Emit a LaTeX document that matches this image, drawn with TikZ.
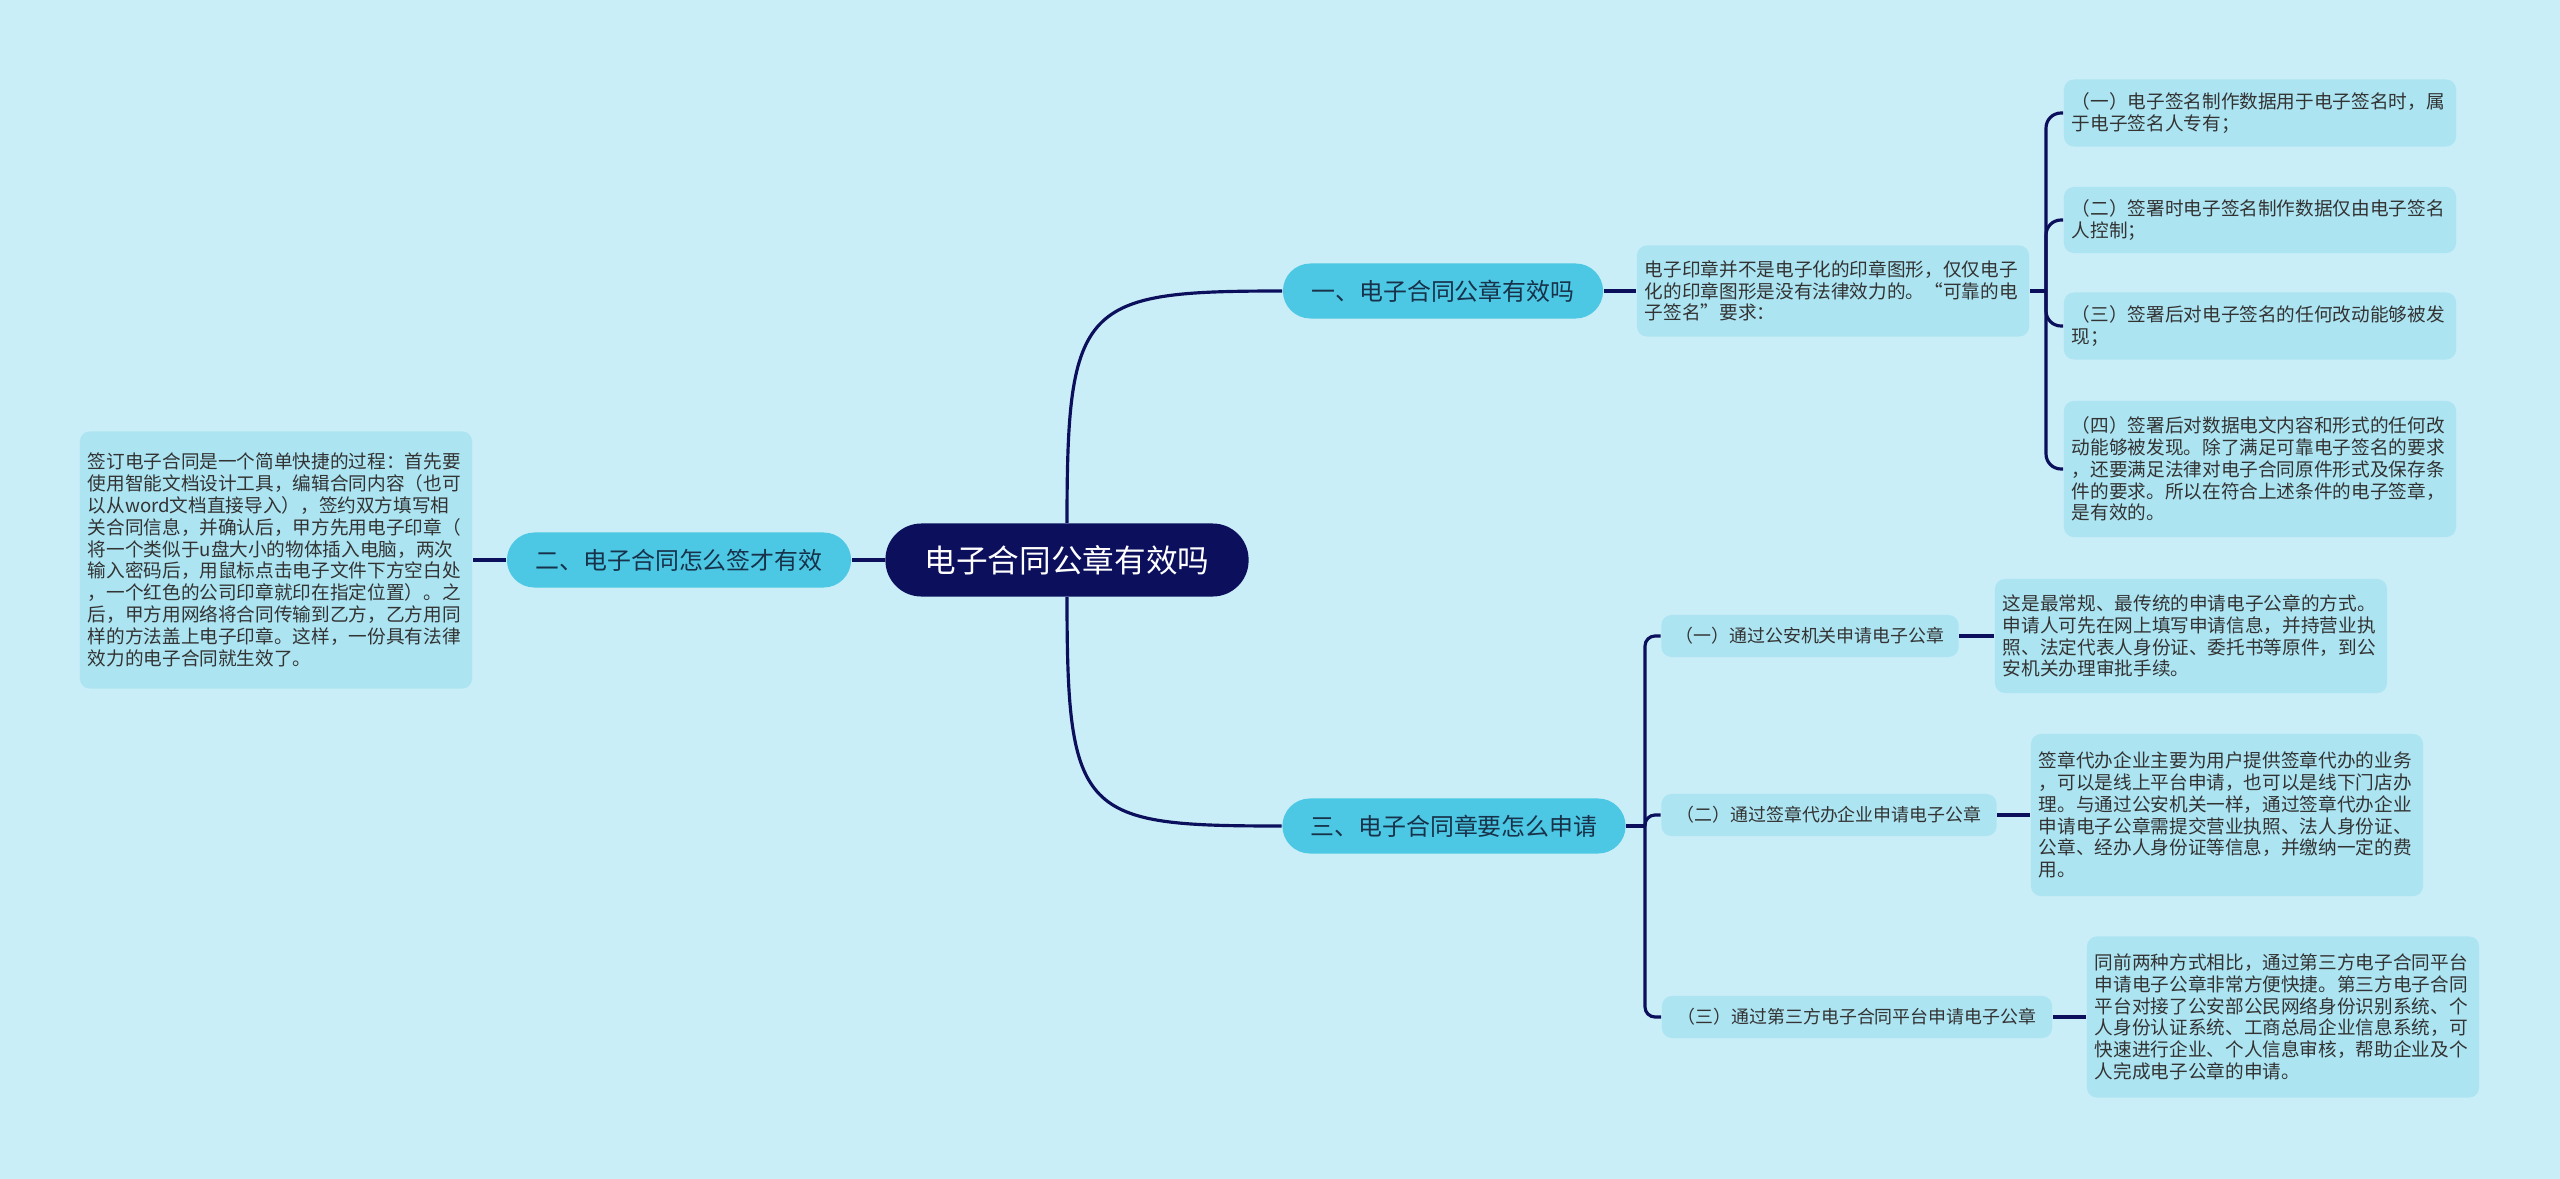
\documentclass[tikz,border=0pt]{standalone}
\usepackage{fontspec}
\setmainfont{Noto Sans CJK SC}

\definecolor{hgfarbe}{HTML}{C9EEF7}
\definecolor{blattfarbe}{HTML}{ACE4F2}
\definecolor{astfarbe}{HTML}{4CC8E4}
\definecolor{wurzelfarbe}{HTML}{0B0F5C}
\definecolor{linie}{HTML}{0B0F5C}
\definecolor{asttext}{HTML}{17324A}
\definecolor{textgrau}{HTML}{333333}

\begin{document}
\begin{tikzpicture}[x=0.01cm, y=-0.01cm]

	% Stile für Knoten und Linien
	\tikzset{
		kante/.style={draw=linie, line width=0.9pt},
		blatt/.style={fill=blattfarbe, rounded corners=0.1cm, align=left, text=textgrau,
			font=\fontsize{5.3pt}{6.2pt}\selectfont, text width=3.76cm, inner xsep=0.08cm, inner ysep=0.04cm},
		ast/.style={fill=astfarbe, rounded corners=0.275cm, text=asttext,
			font=\fontsize{6.8pt}{8pt}\selectfont, inner sep=0pt, minimum height=0.55cm},
		unterast/.style={fill=blattfarbe, rounded corners=0.1cm, text=textgrau,
			font=\fontsize{5.1pt}{6pt}\selectfont, inner sep=0pt, minimum height=0.42cm}
	}

	% Hintergrund
	\fill[hgfarbe] (0,0) rectangle (2560,1179);

	% Zentrum
	\node[fill=wurzelfarbe, rounded corners=0.36cm, text=white, font=\fontsize{9pt}{11pt}\selectfont,
		minimum width=3.63cm, minimum height=0.73cm, inner sep=0pt] (root) at (1067,560) {电子合同公章有效吗};

	% Äste
	\node[ast, minimum width=3.20cm] (b1) at (1443,291) {一、电子合同公章有效吗};
	\node[ast, minimum width=3.44cm] (b2) at (679,560) {二、电子合同怎么签才有效};
	\node[ast, minimum width=3.43cm] (b3) at (1454,826) {三、电子合同章要怎么申请};

	% Blätter links
	\node[blatt, minimum height=2.57cm] (l2) at (276,560) {签订电子合同是一个简单快捷的过程：首先要\\使用智能文档设计工具，编辑合同内容（也可\\以从word文档直接导入），签约双方填写相\\关合同信息，并确认后，甲方先用电子印章（\\将一个类似于u盘大小的物体插入电脑，两次\\输入密码后，用鼠标点击电子文件下方空白处\\，一个红色的公司印章就印在指定位置）。之\\后，甲方用网络将合同传输到乙方，乙方用同\\样的方法盖上电子印章。这样，一份具有法律\\效力的电子合同就生效了。};

	% Blätter rechts oben
	\node[blatt, minimum height=0.91cm] (l1) at (1833,291) {电子印章并不是电子化的印章图形，仅仅电子\\化的印章图形是没有法律效力的。“可靠的电\\子签名”要求：};
	\node[blatt, minimum height=0.67cm] (r1) at (2260,113) {（一）电子签名制作数据用于电子签名时，属\\于电子签名人专有；};
	\node[blatt, minimum height=0.66cm] (r2) at (2260,220) {（二）签署时电子签名制作数据仅由电子签名\\人控制；};
	\node[blatt, minimum height=0.67cm] (r3) at (2260,326) {（三）签署后对电子签名的任何改动能够被发\\现；};
	\node[blatt, minimum height=1.36cm] (r4) at (2260,469) {（四）签署后对数据电文内容和形式的任何改\\动能够被发现。除了满足可靠电子签名的要求\\，还要满足法律对电子合同原件形式及保存条\\件的要求。所以在符合上述条件的电子签章，\\是有效的。};

	% Unteräste und Blätter rechts unten
	\node[unterast, minimum width=2.97cm] (c1) at (1810,636) {（一）通过公安机关申请电子公章};
	\node[unterast, minimum width=3.35cm] (c2) at (1829,815) {（二）通过签章代办企业申请电子公章};
	\node[unterast, minimum width=3.90cm] (c3) at (1857,1017) {（三）通过第三方电子合同平台申请电子公章};

	\node[blatt, minimum height=1.14cm] (k1) at (2191,636) {这是最常规、最传统的申请电子公章的方式。\\申请人可先在网上填写申请信息，并持营业执\\照、法定代表人身份证、委托书等原件，到公\\安机关办理审批手续。};
	\node[blatt, minimum height=1.62cm] (k2) at (2227,815) {签章代办企业主要为用户提供签章代办的业务\\，可以是线上平台申请，也可以是线下门店办\\理。与通过公安机关一样，通过签章代办企业\\申请电子公章需提交营业执照、法人身份证、\\公章、经办人身份证等信息，并缴纳一定的费\\用。};
	\node[blatt, minimum height=1.61cm] (k3) at (2283,1017) {同前两种方式相比，通过第三方电子合同平台\\申请电子公章非常方便快捷。第三方电子合同\\平台对接了公安部公民网络身份识别系统、个\\人身份认证系统、工商总局企业信息系统，可\\快速进行企业、个人信息审核，帮助企业及个\\人完成电子公章的申请。};

	% Verbindungen vom Zentrum
	\draw[kante] (root.north) .. controls +(0,-220) and +(-200,0) .. (b1.west);
	\draw[kante] (root.south) .. controls +(0,220) and +(-200,0) .. (b3.west);
	\draw[kante] (root.west) -- (b2.east);
	\draw[kante] (b1.east) -- (l1.west);
	\draw[kante] (b2.west) -- (l2.east);

	% Klammer oben rechts
	\coordinate (j1) at (2046,291);
	\draw[kante] (l1.east) -- (j1);
	\foreach \n in {r1,r2,r3,r4}
		\draw[kante, rounded corners=0.15cm] (j1) |- (\n.west);

	% Klammer unten
	\coordinate (j3) at (1645,826);
	\draw[kante] (b3.east) -- (j3);
	\foreach \n in {c1,c2,c3}
		\draw[kante, rounded corners=0.1cm] (j3) |- (\n.west);
	\draw[kante] (c1.east) -- (k1.west);
	\draw[kante] (c2.east) -- (k2.west);
	\draw[kante] (c3.east) -- (k3.west);

\end{tikzpicture}
\end{document}
